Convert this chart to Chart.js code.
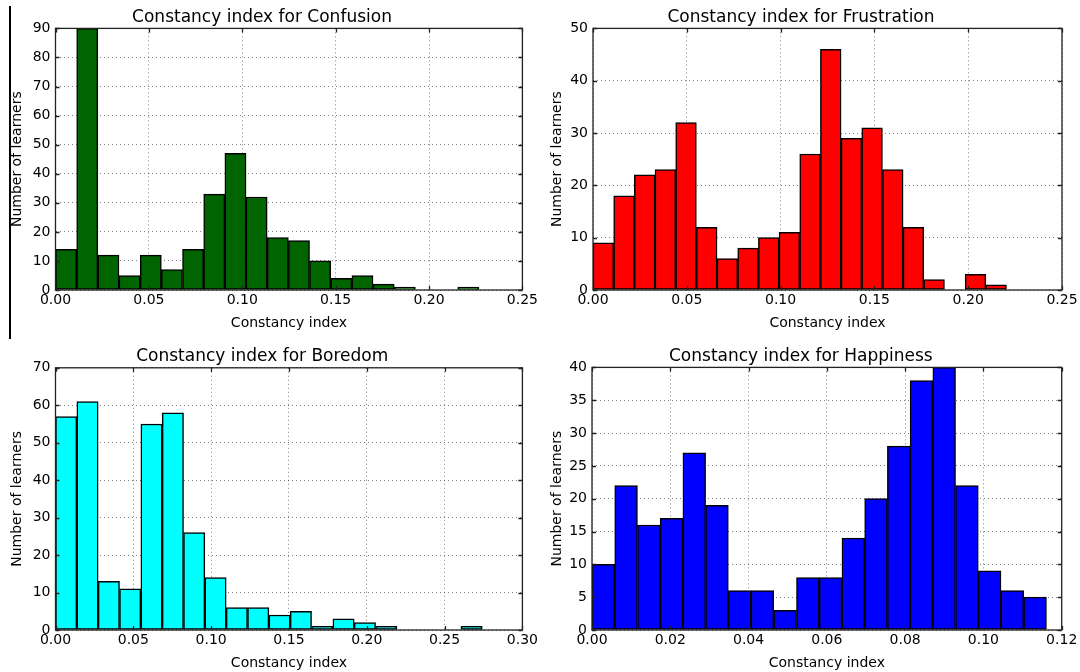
<!DOCTYPE html>
<html>
<head>
<meta charset="utf-8">
<script src="https://cdn.jsdelivr.net/npm/chart.js@4/dist/chart.umd.min.js"></script>
<style>
  html, body { margin: 0; padding: 0; background: #fff; }
  #page { position: relative; width: 1080px; height: 672px; overflow: hidden; background: #fff; }
  .panel { position: absolute; width: 540px; height: 336px; }
  .panel canvas { display: block; }
  #edge { position: absolute; left: 9px; top: 6px; width: 1.5px; height: 333px; background: #000; }
</style>
</head>
<body>
<div id="page">
  <div class="panel" style="left:0;top:0"><canvas id="cConfusion" width="540" height="336"></canvas></div>
  <div class="panel" style="left:540px;top:0"><canvas id="cFrustration" width="540" height="336"></canvas></div>
  <div class="panel" style="left:0;top:336px"><canvas id="cBoredom" width="540" height="336"></canvas></div>
  <div class="panel" style="left:540px;top:336px"><canvas id="cHappiness" width="540" height="336"></canvas></div>
  <div id="edge"></div>
</div>
<script>
// ===========================
// Histogram counts (20 bins each)
// ===========================
const confusionCounts   = [14, 90, 12, 5, 12, 7, 14, 33, 47, 32, 18, 17, 10, 4, 5, 2, 1, 0, 0, 1];
const frustrationCounts = [9, 18, 22, 23, 32, 12, 6, 8, 10, 11, 26, 46, 29, 31, 23, 12, 2, 0, 3, 1];
const boredomCounts     = [57, 61, 13, 11, 55, 58, 26, 14, 6, 6, 4, 5, 1, 3, 2, 1, 0, 0, 0, 1];
const happinessCounts   = [10, 22, 16, 17, 27, 19, 6, 6, 3, 8, 8, 14, 20, 28, 38, 40, 22, 9, 6, 5];

// upper edge of the last bin (bins start at 0)
const confusionBinMax   = 0.2267;
const frustrationBinMax = 0.2204;
const boredomBinMax     = 0.2742;
const happinessBinMax   = 0.1161;

// tick labels
const confusionXTicks   = [0, 0.05, 0.10, 0.15, 0.20, 0.25];
const frustrationXTicks = [0, 0.05, 0.10, 0.15, 0.20, 0.25];
const boredomXTicks     = [0, 0.05, 0.10, 0.15, 0.20, 0.25, 0.30];
const happinessXTicks   = [0, 0.02, 0.04, 0.06, 0.08, 0.10, 0.12];
const confusionYTicks   = [0, 10, 20, 30, 40, 50, 60, 70, 80, 90];
const frustrationYTicks = [0, 10, 20, 30, 40, 50];
const boredomYTicks     = [0, 10, 20, 30, 40, 50, 60, 70];
const happinessYTicks   = [0, 5, 10, 15, 20, 25, 30, 35, 40];

const FONT = "'DejaVu Sans', 'Liberation Sans', sans-serif";

// box + inward ticks, matplotlib style
const framePlugin = {
  id: 'frame',
  afterDraw(chart) {
    const { ctx, chartArea: a, scales: { x, y } } = chart;
    ctx.save();
    ctx.strokeStyle = '#222';
    ctx.lineWidth = 1.3;
    ctx.beginPath();
    x.ticks.forEach(t => {
      const px = Math.round(x.getPixelForValue(t.value)) + 0.5;
      ctx.moveTo(px, a.bottom); ctx.lineTo(px, a.bottom - 4);
      ctx.moveTo(px, a.top);    ctx.lineTo(px, a.top + 4);
    });
    y.ticks.forEach(t => {
      const py = Math.round(y.getPixelForValue(t.value)) + 0.5;
      ctx.moveTo(a.left, py);  ctx.lineTo(a.left + 4, py);
      ctx.moveTo(a.right, py); ctx.lineTo(a.right - 4, py);
    });
    ctx.stroke();
    ctx.strokeRect(a.left, a.top, a.right - a.left, a.bottom - a.top);
    ctx.restore();
  }
};

function histChart(id, title, counts, binMax, xTicks, yTicks, color, box) {
  const w = binMax / counts.length;
  const points = counts.map((c, i) => ({ x: (i + 0.5) * w, y: c }));

  return new Chart(document.getElementById(id), {
    type: 'bar',
    data: {
      datasets: [{
        data: points,
        backgroundColor: color,
        borderColor: '#000',
        borderWidth: 1.5,
        borderSkipped: false,
        barPercentage: 1,
        categoryPercentage: 1,
      }]
    },
    options: {
      responsive: false,
      animation: false,
      layout: { padding: { left: 0, right: box.padRight, top: 0, bottom: 0 } },
      plugins: {
        legend: { display: false },
        tooltip: { enabled: false },
        title: {
          display: true,
          text: title,
          color: '#000',
          font: { family: FONT, size: 17, weight: 'normal' },
          padding: { top: box.titleTop, bottom: box.titleBottom }
        }
      },
      scales: {
        x: {
          type: 'linear',
          offset: false,
          min: xTicks[0],
          max: xTicks[xTicks.length - 1],
          afterFit: s => { s.height = box.xHeight; },
          afterBuildTicks: s => { s.ticks = xTicks.map(v => ({ value: v })); },
          ticks: {
            color: '#000',
            font: { family: FONT, size: 14 },
            padding: 2,
            maxRotation: 0,
            autoSkip: false,
            callback: v => Number(v).toFixed(2)
          },
          grid: { offset: false, color: 'rgba(0,0,0,0.5)', lineWidth: 1, drawTicks: false },
          border: { display: false, dash: [1, 3] },
          title: {
            display: true,
            text: 'Constancy index',
            color: '#000',
            font: { family: FONT, size: 14 },
            padding: { top: 0, bottom: box.xTitlePad }
          }
        },
        y: {
          min: yTicks[0],
          max: yTicks[yTicks.length - 1],
          afterFit: s => { s.width = box.left; },
          afterBuildTicks: s => { s.ticks = yTicks.map(v => ({ value: v })); },
          ticks: {
            color: '#000',
            font: { family: FONT, size: 14 },
            padding: 5,
            autoSkip: false,
            callback: v => String(v)
          },
          grid: { color: 'rgba(0,0,0,0.5)', lineWidth: 1, drawTicks: false },
          border: { display: false, dash: [1, 3] },
          title: {
            display: true,
            text: 'Number of learners',
            color: '#000',
            font: { family: FONT, size: 14 },
            padding: { top: 8.6, bottom: 0 }
          }
        }
      }
    },
    plugins: [framePlugin]
  });
}

histChart('cConfusion', 'Constancy index for Confusion', confusionCounts, confusionBinMax,
  confusionXTicks, confusionYTicks, '#006400',
  { left: 55.5, padRight: 16, titleTop: 7, titleBottom: 1, xHeight: 46, xTitlePad: 4.6 });

histChart('cFrustration', 'Constancy index for Frustration', frustrationCounts, frustrationBinMax,
  frustrationXTicks, frustrationYTicks, '#ff0000',
  { left: 53, padRight: 18, titleTop: 7, titleBottom: 1, xHeight: 46, xTitlePad: 4.6 });

histChart('cBoredom', 'Constancy index for Boredom', boredomCounts, boredomBinMax,
  boredomXTicks, boredomYTicks, '#00ffff',
  { left: 55.5, padRight: 15.5, titleTop: 10.3, titleBottom: 1.1, xHeight: 42, xTitlePad: 0.6 });

histChart('cHappiness', 'Constancy index for Happiness', happinessCounts, happinessBinMax,
  happinessXTicks, happinessYTicks, '#0000ff',
  { left: 52, padRight: 18.3, titleTop: 10.3, titleBottom: 0.7, xHeight: 42, xTitlePad: 0.6 });
</script>
</body>
</html>
